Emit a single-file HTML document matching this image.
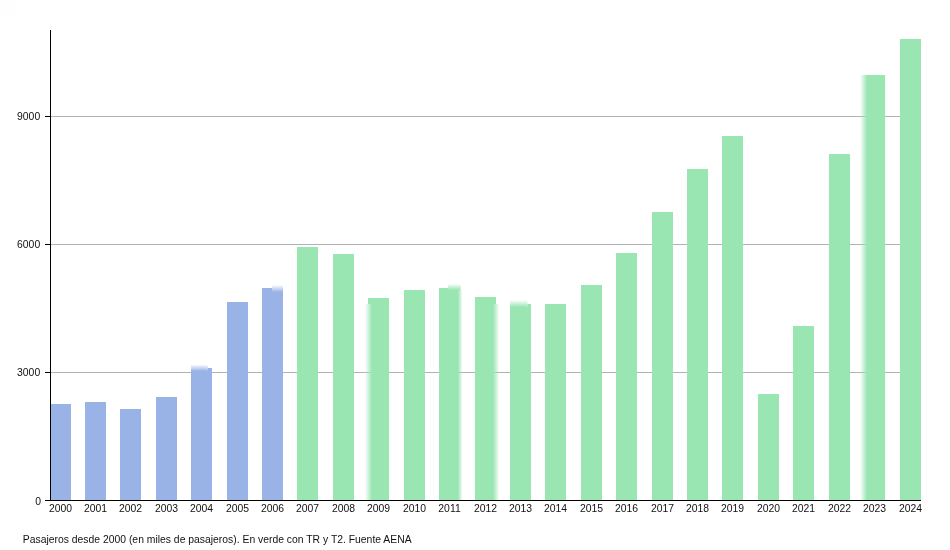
<!DOCTYPE html>
<html><head><meta charset="utf-8"><title>Pasajeros</title>
<style>
html,body{margin:0;padding:0;background:#fff;}
body{width:950px;height:550px;overflow:hidden;position:relative;font-family:"Liberation Sans",sans-serif;}
svg{position:absolute;left:0;top:0;will-change:transform;}
text{font-family:"Liberation Sans",sans-serif;font-size:10.4px;fill:#111;}
</style></head><body>
<svg width="950" height="550" viewBox="0 0 950 550">
<defs>
<linearGradient id="gL" x1="0" y1="0" x2="1" y2="0"><stop offset="0" stop-color="#99e6b3" stop-opacity="0"/><stop offset="1" stop-color="#99e6b3" stop-opacity="1"/></linearGradient>
<linearGradient id="gR" x1="0" y1="0" x2="1" y2="0"><stop offset="0" stop-color="#99e6b3" stop-opacity="1"/><stop offset="1" stop-color="#99e6b3" stop-opacity="0"/></linearGradient>
<linearGradient id="gT" x1="0" y1="0" x2="0" y2="1"><stop offset="0" stop-color="#99e6b3" stop-opacity="0"/><stop offset="1" stop-color="#99e6b3" stop-opacity="1"/></linearGradient>
<linearGradient id="bT" x1="0" y1="0" x2="0" y2="1"><stop offset="0" stop-color="#99b3e6" stop-opacity="0"/><stop offset="1" stop-color="#99b3e6" stop-opacity="1"/></linearGradient>
</defs>
<rect width="950" height="550" fill="#fff"/>
<rect width="15" height="15" fill="#fefefe"/>
<line x1="50" y1="372.5" x2="921" y2="372.5" stroke="#b2b2b2" stroke-width="1"/>
<line x1="50" y1="244.5" x2="921" y2="244.5" stroke="#b2b2b2" stroke-width="1"/>
<line x1="50" y1="116.5" x2="921" y2="116.5" stroke="#b2b2b2" stroke-width="1"/>
<rect x="50.00" y="404.00" width="21.00" height="96.00" fill="#99b3e6"/>
<rect x="85.00" y="402.00" width="21.00" height="98.00" fill="#99b3e6"/>
<rect x="120.00" y="409.00" width="21.00" height="91.00" fill="#99b3e6"/>
<rect x="156.00" y="397.00" width="21.00" height="103.00" fill="#99b3e6"/>
<rect x="191.00" y="371.00" width="21.00" height="129.00" fill="#99b3e6"/>
<rect x="207.80" y="368.00" width="4.20" height="3.00" fill="#99b3e6"/>
<rect x="191.00" y="364.50" width="16.80" height="6.50" fill="url(#bT)"/>
<rect x="227.00" y="302.00" width="21.00" height="198.00" fill="#99b3e6"/>
<rect x="262.00" y="292.00" width="21.00" height="208.00" fill="#99b3e6"/>
<rect x="262.00" y="288.00" width="10.00" height="4.00" fill="#99b3e6"/>
<rect x="272.00" y="285.00" width="11.00" height="7.00" fill="url(#bT)"/>
<rect x="297.00" y="247.00" width="21.00" height="253.00" fill="#99e6b3"/>
<rect x="333.00" y="254.00" width="21.00" height="246.00" fill="#99e6b3"/>
<rect x="368.00" y="298.00" width="21.00" height="6.00" fill="#99e6b3"/>
<rect x="372.00" y="304.00" width="17.00" height="196.00" fill="#99e6b3"/>
<rect x="365.00" y="304.00" width="7.00" height="196.00" fill="url(#gL)"/>
<rect x="404.00" y="290.00" width="21.00" height="210.00" fill="#99e6b3"/>
<rect x="439.00" y="290.00" width="19.00" height="210.00" fill="#99e6b3"/>
<rect x="439.00" y="288.00" width="9.00" height="2.00" fill="#99e6b3"/>
<rect x="458.00" y="290.00" width="4.60" height="210.00" fill="url(#gR)"/>
<rect x="448.00" y="283.70" width="12.60" height="6.30" fill="url(#gT)"/>
<rect x="475.00" y="297.00" width="21.00" height="7.00" fill="#99e6b3"/>
<rect x="475.00" y="304.00" width="18.00" height="196.00" fill="#99e6b3"/>
<rect x="493.00" y="304.00" width="6.50" height="196.00" fill="url(#gR)"/>
<rect x="510.00" y="307.00" width="21.00" height="193.00" fill="#99e6b3"/>
<rect x="527.50" y="304.00" width="3.50" height="3.00" fill="#99e6b3"/>
<rect x="510.00" y="300.00" width="17.50" height="7.00" fill="url(#gT)"/>
<rect x="545.00" y="304.00" width="21.00" height="196.00" fill="#99e6b3"/>
<rect x="581.00" y="285.00" width="21.00" height="215.00" fill="#99e6b3"/>
<rect x="616.00" y="253.00" width="21.00" height="247.00" fill="#99e6b3"/>
<rect x="652.00" y="212.00" width="21.00" height="288.00" fill="#99e6b3"/>
<rect x="687.00" y="169.00" width="21.00" height="331.00" fill="#99e6b3"/>
<rect x="722.00" y="136.00" width="21.00" height="364.00" fill="#99e6b3"/>
<rect x="758.00" y="394.00" width="21.00" height="106.00" fill="#99e6b3"/>
<rect x="793.00" y="326.00" width="21.00" height="174.00" fill="#99e6b3"/>
<rect x="829.00" y="154.00" width="21.00" height="346.00" fill="#99e6b3"/>
<rect x="867.00" y="75.00" width="18.10" height="425.00" fill="#99e6b3"/>
<rect x="860.00" y="75.00" width="7.00" height="425.00" fill="url(#gL)"/>
<rect x="900.00" y="39.00" width="21.00" height="461.00" fill="#99e6b3"/>
<line x1="50.5" y1="30" x2="50.5" y2="501" stroke="#000" stroke-width="1"/>
<line x1="50" y1="500.5" x2="921" y2="500.5" stroke="#000" stroke-width="1"/>
<line x1="45" y1="500.5" x2="50" y2="500.5" stroke="#000" stroke-width="1"/>
<text x="41.0" y="505.3" text-anchor="end">0</text>
<line x1="45" y1="372.5" x2="50" y2="372.5" stroke="#000" stroke-width="1"/>
<text x="40.2" y="376.4" text-anchor="end">3000</text>
<line x1="45" y1="244.5" x2="50" y2="244.5" stroke="#000" stroke-width="1"/>
<text x="40.2" y="248.4" text-anchor="end">6000</text>
<line x1="45" y1="116.5" x2="50" y2="116.5" stroke="#000" stroke-width="1"/>
<text x="40.2" y="120.4" text-anchor="end">9000</text>
<text x="60.50" y="512" text-anchor="middle">2000</text>
<text x="95.50" y="512" text-anchor="middle">2001</text>
<text x="130.50" y="512" text-anchor="middle">2002</text>
<text x="166.50" y="512" text-anchor="middle">2003</text>
<text x="201.50" y="512" text-anchor="middle">2004</text>
<text x="237.50" y="512" text-anchor="middle">2005</text>
<text x="272.50" y="512" text-anchor="middle">2006</text>
<text x="307.50" y="512" text-anchor="middle">2007</text>
<text x="343.50" y="512" text-anchor="middle">2008</text>
<text x="378.50" y="512" text-anchor="middle">2009</text>
<text x="414.50" y="512" text-anchor="middle">2010</text>
<text x="449.50" y="512" text-anchor="middle">2011</text>
<text x="485.50" y="512" text-anchor="middle">2012</text>
<text x="520.50" y="512" text-anchor="middle">2013</text>
<text x="555.50" y="512" text-anchor="middle">2014</text>
<text x="591.50" y="512" text-anchor="middle">2015</text>
<text x="626.50" y="512" text-anchor="middle">2016</text>
<text x="662.50" y="512" text-anchor="middle">2017</text>
<text x="697.50" y="512" text-anchor="middle">2018</text>
<text x="732.50" y="512" text-anchor="middle">2019</text>
<text x="768.50" y="512" text-anchor="middle">2020</text>
<text x="803.50" y="512" text-anchor="middle">2021</text>
<text x="839.50" y="512" text-anchor="middle">2022</text>
<text x="874.50" y="512" text-anchor="middle">2023</text>
<text x="910.50" y="512" text-anchor="middle">2024</text>
<text x="22.8" y="543" style="font-size:10.6px" textLength="388.8" lengthAdjust="spacingAndGlyphs">Pasajeros desde 2000 (en miles de pasajeros). En verde con TR y T2. Fuente AENA</text>
</svg></body></html>
